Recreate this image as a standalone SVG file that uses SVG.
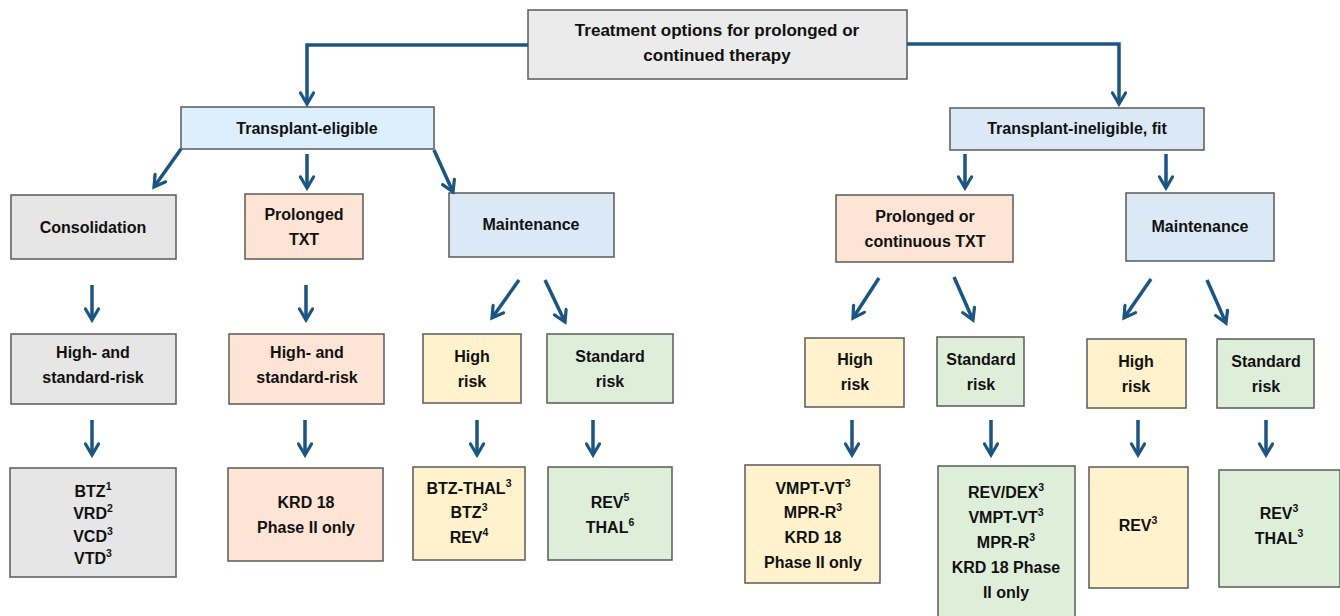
<svg xmlns="http://www.w3.org/2000/svg" width="1340" height="616" viewBox="0 0 1340 616">
<style>
text{font-family:"Liberation Sans",Arial,sans-serif;font-weight:bold;font-size:16px;fill:#111;text-anchor:middle}
.t{font-size:17px}
rect{stroke:#5a5a5a;stroke-width:1.5}
.gray{fill:#e6e6e6}
.top{fill:#ebebeb}
.blue{fill:#dbe9f6}
.lblue{fill:#ddeefc}
.peach{fill:#fde4d4}
.yellow{fill:#fff2cc}
.green{fill:#deefd9}
.c path,.c line,.c polyline{stroke:#1b5582;stroke-width:3.5;fill:none}
.s{font-size:10.5px}
</style>
<defs>
<marker id="ah" markerUnits="userSpaceOnUse" viewBox="0 0 16 16" refX="13" refY="8" markerWidth="16" markerHeight="16" orient="auto">
<path d="M2,1.5 L13,8 L2,14.5" fill="none" stroke="#1b5582" stroke-width="3.2" stroke-linecap="round"/>
</marker>
</defs>

<g id="root"><rect class="top" x="528" y="10" width="379" height="69"/>
<text class="t" x="717" y="36">Treatment options for prolonged or</text>
<text class="t" x="717" y="61">continued therapy</text></g>

<g id="te"><rect class="lblue" x="181" y="107" width="253" height="42"/><text x="307" y="134">Transplant-eligible</text></g>
<g id="ti"><rect class="blue" x="950" y="108" width="254" height="42"/><text x="1077" y="134">Transplant-ineligible, fit</text></g>

<g id="cons"><rect class="gray" x="11" y="195" width="165" height="64"/><text x="93" y="233">Consolidation</text></g>
<g id="ptxt"><rect class="peach" x="245" y="194" width="118" height="65"/><text x="304" y="220">Prolonged</text><text x="304" y="245">TXT</text></g>
<g id="maint1"><rect class="blue" x="449" y="193" width="165" height="64"/><text x="531" y="230">Maintenance</text></g>
<g id="pctxt"><rect class="peach" x="836" y="195" width="177" height="67"/><text x="925" y="222">Prolonged or</text><text x="925" y="247">continuous TXT</text></g>
<g id="maint2"><rect class="blue" x="1126" y="193" width="148" height="68"/><text x="1200" y="232">Maintenance</text></g>

<g id="hs1"><rect class="gray" x="11" y="334" width="165" height="70"/><text x="93" y="358">High- and</text><text x="93" y="383">standard-risk</text></g>
<g id="hs2"><rect class="peach" x="229" y="334" width="155" height="70"/><text x="307" y="358">High- and</text><text x="307" y="383">standard-risk</text></g>
<g id="hr1"><rect class="yellow" x="423" y="334" width="98" height="69"/><text x="472" y="362">High</text><text x="472" y="387">risk</text></g>
<g id="sr1"><rect class="green" x="547" y="334" width="126" height="69"/><text x="610" y="362">Standard</text><text x="610" y="387">risk</text></g>
<g id="hr2"><rect class="yellow" x="805" y="338" width="99" height="69"/><text x="855" y="365">High</text><text x="855" y="390">risk</text></g>
<g id="sr2"><rect class="green" x="937" y="337" width="87" height="69"/><text x="981" y="365">Standard</text><text x="981" y="390">risk</text></g>
<g id="hr3"><rect class="yellow" x="1087" y="339" width="99" height="69"/><text x="1136" y="367">High</text><text x="1136" y="392">risk</text></g>
<g id="sr3"><rect class="green" x="1217" y="339" width="97" height="69"/><text x="1266" y="367">Standard</text><text x="1266" y="392">risk</text></g>

<g id="b1"><rect class="gray" x="10" y="468" width="166" height="109"/>
<text x="93" y="497">BTZ<tspan class="s" dy="-7">1</tspan></text>
<text x="93" y="519">VRD<tspan class="s" dy="-7">2</tspan></text>
<text x="93" y="542">VCD<tspan class="s" dy="-7">3</tspan></text>
<text x="93" y="564">VTD<tspan class="s" dy="-7">3</tspan></text></g>
<g id="b2"><rect class="peach" x="228" y="468" width="155" height="93"/>
<text x="306" y="508">KRD 18</text><text x="306" y="533">Phase II only</text></g>
<g id="b3"><rect class="yellow" x="413" y="467" width="112" height="93"/>
<text x="469" y="494">BTZ-THAL<tspan class="s" dy="-7">3</tspan></text>
<text x="469" y="518">BTZ<tspan class="s" dy="-7">3</tspan></text>
<text x="469" y="543">REV<tspan class="s" dy="-7">4</tspan></text></g>
<g id="b4"><rect class="green" x="548" y="467" width="124" height="93"/>
<text x="610" y="508">REV<tspan class="s" dy="-7">5</tspan></text>
<text x="610" y="533">THAL<tspan class="s" dy="-7">6</tspan></text></g>
<g id="b5"><rect class="yellow" x="745" y="465" width="135" height="118"/>
<text x="813" y="494">VMPT-VT<tspan class="s" dy="-7">3</tspan></text>
<text x="813" y="518">MPR-R<tspan class="s" dy="-7">3</tspan></text>
<text x="813" y="543">KRD 18</text>
<text x="813" y="568">Phase II only</text></g>
<g id="b6"><rect class="green" x="938" y="466" width="137" height="155"/>
<text x="1006" y="498">REV/DEX<tspan class="s" dy="-7">3</tspan></text>
<text x="1006" y="523">VMPT-VT<tspan class="s" dy="-7">3</tspan></text>
<text x="1006" y="548">MPR-R<tspan class="s" dy="-7">3</tspan></text>
<text x="1006" y="573">KRD 18 Phase</text>
<text x="1006" y="598">II only</text></g>
<g id="b7"><rect class="yellow" x="1089" y="467" width="99" height="121"/>
<text x="1138" y="531">REV<tspan class="s" dy="-7">3</tspan></text></g>
<g id="b8"><rect class="green" x="1219" y="470" width="121" height="117"/>
<text x="1279" y="519">REV<tspan class="s" dy="-7">3</tspan></text>
<text x="1279" y="544">THAL<tspan class="s" dy="-7">3</tspan></text></g>

<g id="connectors" class="c">
<polyline points="528,45 307,45 307,104" marker-end="url(#ah)"/>
<polyline points="907,44 1119,44 1119,104" marker-end="url(#ah)"/>
<line x1="181" y1="149" x2="154" y2="187" marker-end="url(#ah)"/>
<line x1="307" y1="154" x2="307" y2="188" marker-end="url(#ah)"/>
<line x1="434" y1="150" x2="453" y2="192" marker-end="url(#ah)"/>
<line x1="965" y1="154" x2="965" y2="188" marker-end="url(#ah)"/>
<line x1="1166" y1="154" x2="1166" y2="188" marker-end="url(#ah)"/>
<line x1="92" y1="285" x2="92" y2="320" marker-end="url(#ah)"/>
<line x1="306" y1="285" x2="306" y2="320" marker-end="url(#ah)"/>
<line x1="519" y1="280" x2="492" y2="318" marker-end="url(#ah)"/>
<line x1="545" y1="280" x2="565" y2="322" marker-end="url(#ah)"/>
<line x1="879" y1="278" x2="853" y2="318" marker-end="url(#ah)"/>
<line x1="954" y1="277" x2="973" y2="320" marker-end="url(#ah)"/>
<line x1="1151" y1="279" x2="1124" y2="318" marker-end="url(#ah)"/>
<line x1="1207" y1="280" x2="1226" y2="323" marker-end="url(#ah)"/>
<line x1="92" y1="420" x2="92" y2="455" marker-end="url(#ah)"/>
<line x1="305" y1="420" x2="305" y2="455" marker-end="url(#ah)"/>
<line x1="477" y1="420" x2="477" y2="455" marker-end="url(#ah)"/>
<line x1="593" y1="420" x2="593" y2="455" marker-end="url(#ah)"/>
<line x1="852" y1="420" x2="852" y2="455" marker-end="url(#ah)"/>
<line x1="991" y1="420" x2="991" y2="455" marker-end="url(#ah)"/>
<line x1="1138" y1="420" x2="1138" y2="455" marker-end="url(#ah)"/>
<line x1="1266" y1="420" x2="1266" y2="455" marker-end="url(#ah)"/>
</g>
</svg>
